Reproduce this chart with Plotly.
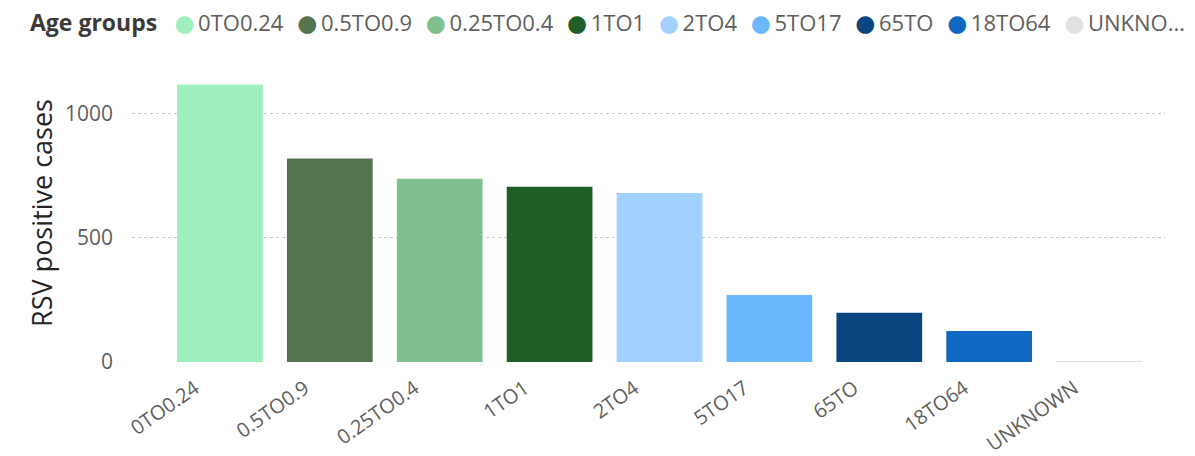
import plotly.graph_objects as go

categories = ["0TO0.24", "0.5TO0.9", "0.25TO0.4", "1TO1", "2TO4", "5TO17", "65TO", "18TO64", "UNKNOWN"]
legend_labels = ["0TO0.24", "0.5TO0.9", "0.25TO0.4", "1TO1", "2TO4", "5TO17", "65TO", "18TO64", "UNKNO..."]
cases = [1117, 819, 738, 706, 681, 270, 198, 125, 3]
colors = ["#9FEEBD", "#54734F", "#80C090", "#205E28", "#A2D1FF", "#6CB8FF", "#0B4580", "#1168C2", "#E1E1E1"]
y_ticks = [0, 500, 1000]

# page has an 8px body margin; layout numbers below are in figure coordinates
L, T, PW, PH = 124, 56, 1033, 298

fig = go.Figure()
fig.add_trace(go.Bar(x=categories, y=cases, marker=dict(color=colors, line=dict(width=0)),
                     showlegend=False))

# Legend drawn as a single line of text (Power BI style: circle markers, tight spacing)
thin = "<span style='font-size:14px'>&nbsp;</span>"
gap = "&nbsp;&nbsp;<span style='font-size:9px'>&nbsp;</span>"
items = []
for lab, col in zip(legend_labels, colors):
    items.append(f"<span style='color:{col};font-family:DejaVu Sans;font-size:23px'>●</span>{thin}{lab}")
legend_text = ("<b><span style='color:#3B3A39;font-size:23px'>Age groups</span></b>&nbsp;&nbsp;&nbsp;"
               + gap.join(items))
fig.add_annotation(text=legend_text, xref="paper", yref="paper",
                   x=(20 - L) / PW, y=1 + (T - 14) / PH, xanchor="left", yanchor="middle",
                   showarrow=False, align="left", font=dict(size=22, color="#605E5C"))

fig.update_layout(
    width=1195, height=456,
    margin=dict(l=L, r=1195 - L - PW, t=T, b=456 - T - PH, autoexpand=False),
    paper_bgcolor="white", plot_bgcolor="white",
    bargap=0.22,
    showlegend=False,
    font=dict(family="Open Sans", color="#605E5C"),
    xaxis=dict(range=[-0.8, 8.6], tickangle=-35, tickfont=dict(size=20, color="#605E5C"),
               ticklabelshift=-25, ticklabelstandoff=10,
               showgrid=False, zeroline=False, showline=False, ticks=""),
    yaxis=dict(range=[0, 1200], tickvals=y_ticks, tickfont=dict(size=21, color="#605E5C"),
               showgrid=True, gridcolor="#C8C8C8", griddash="dot", gridwidth=1,
               zeroline=False, ticks="", ticklabelstandoff=18,
               title=dict(text="RSV positive cases", font=dict(size=27, color="#252423"), standoff=4)),
)
fig.write_html("out.html")
